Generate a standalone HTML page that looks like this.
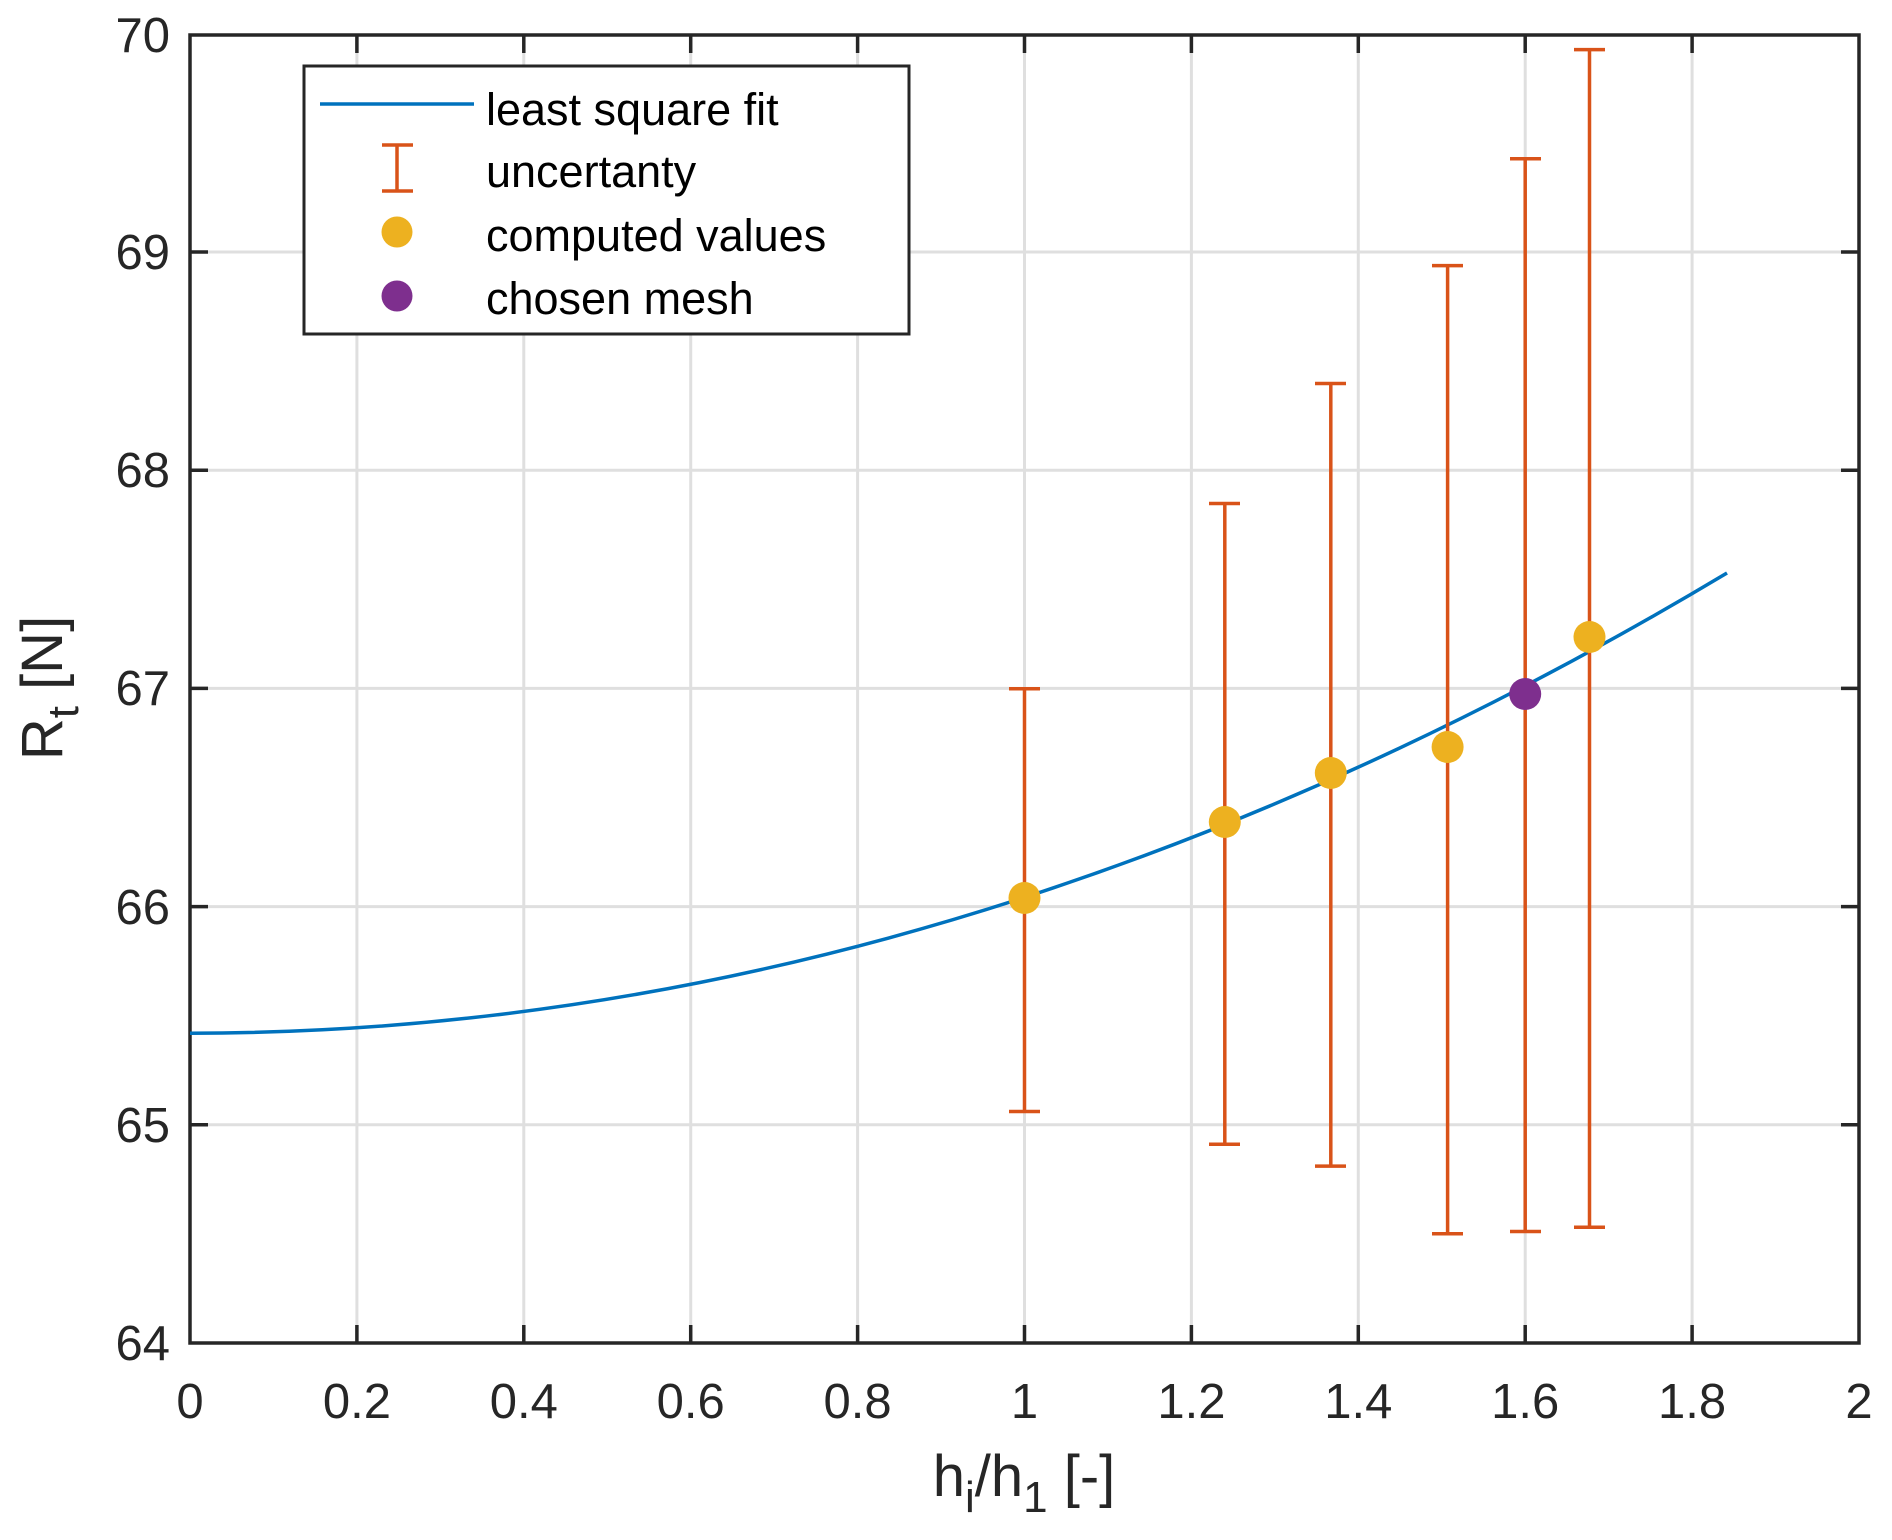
<!DOCTYPE html>
<html><head><meta charset="utf-8"><style>html,body{margin:0;padding:0;background:#fff}</style></head>
<body>
<svg width="1892" height="1535" xmlns="http://www.w3.org/2000/svg" font-family="Liberation Sans, Arial, sans-serif">
<rect width="1892" height="1535" fill="#fff"/>
<g stroke="#dfdfdf" stroke-width="3">
<line x1="356.9" y1="35" x2="356.9" y2="1343"/>
<line x1="523.8" y1="35" x2="523.8" y2="1343"/>
<line x1="690.7" y1="35" x2="690.7" y2="1343"/>
<line x1="857.6" y1="35" x2="857.6" y2="1343"/>
<line x1="1024.5" y1="35" x2="1024.5" y2="1343"/>
<line x1="1191.4" y1="35" x2="1191.4" y2="1343"/>
<line x1="1358.3" y1="35" x2="1358.3" y2="1343"/>
<line x1="1525.2" y1="35" x2="1525.2" y2="1343"/>
<line x1="1692.1" y1="35" x2="1692.1" y2="1343"/>
<line x1="190" y1="1124.8" x2="1859" y2="1124.8"/>
<line x1="190" y1="906.6" x2="1859" y2="906.6"/>
<line x1="190" y1="688.4" x2="1859" y2="688.4"/>
<line x1="190" y1="470.2" x2="1859" y2="470.2"/>
<line x1="190" y1="252" x2="1859" y2="252"/>
</g>
<g stroke="#262626" stroke-width="3.5">
<rect x="190" y="35" width="1669" height="1308" fill="none"/>
<path d="M356.9 1343v-18M523.8 1343v-18M690.7 1343v-18M857.6 1343v-18M1024.5 1343v-18M1191.4 1343v-18M1358.3 1343v-18M1525.2 1343v-18M1692.1 1343v-18
M356.9 35v18M523.8 35v18M690.7 35v18M857.6 35v18M1024.5 35v18M1191.4 35v18M1358.3 35v18M1525.2 35v18M1692.1 35v18
M190 1124.8h18M190 906.6h18M190 688.4h18M190 470.2h18M190 252h18
M1859 1124.8h-18M1859 906.6h-18M1859 688.4h-18M1859 470.2h-18M1859 252h-18"/>
</g>
<path fill="none" stroke="#0072bd" stroke-width="3.5" d="M190 1033.2 Q957.75 1033.2 1727 573"/>
<g stroke="#d95319" stroke-width="3.5" fill="none">
<path d="M1024.5 688.8V1111.5M1009 688.8h31M1009 1111.5h31"/>
<path d="M1224.8 503.5V1144.3M1209 503.5h31M1209 1144.3h31"/>
<path d="M1330.8 383.5V1166.1M1315 383.5h31M1315 1166.1h31"/>
<path d="M1447.6 265.6V1233.7M1432 265.6h31M1432 1233.7h31"/>
<path d="M1525.2 158.7V1231.5M1510 158.7h31M1510 1231.5h31"/>
<path d="M1589.5 49.6V1227.2M1574 49.6h31M1574 1227.2h31"/>
</g>
<g fill="#edb120">
<circle cx="1024.5" cy="898" r="16"/>
<circle cx="1224.8" cy="822" r="16"/>
<circle cx="1330.8" cy="773" r="16"/>
<circle cx="1447.6" cy="747" r="16"/>
<circle cx="1589.5" cy="637" r="16"/>
</g>
<circle cx="1525.2" cy="694" r="16" fill="#7e2f8e"/>
<rect x="304" y="66" width="605" height="268" fill="#fff" stroke="#262626" stroke-width="3"/>
<line x1="320" y1="104" x2="474" y2="104" stroke="#0072bd" stroke-width="3.5"/>
<path d="M397 145V191M382 145h31M382 191h31" stroke="#d95319" stroke-width="3.5" fill="none"/>
<circle cx="397" cy="232" r="15.5" fill="#edb120"/>
<circle cx="397" cy="296" r="15.5" fill="#7e2f8e"/>
<g font-size="45" fill="#000">
<text x="486" y="125">least square fit</text>
<text x="486" y="187">uncertanty</text>
<text x="486" y="251">computed values</text>
<text x="486" y="314">chosen mesh</text>
</g>
<g font-size="49" fill="#262626" text-anchor="middle">
<text x="190" y="1418">0</text>
<text x="356.9" y="1418">0.2</text>
<text x="523.8" y="1418">0.4</text>
<text x="690.7" y="1418">0.6</text>
<text x="857.6" y="1418">0.8</text>
<text x="1024.5" y="1418">1</text>
<text x="1191.4" y="1418">1.2</text>
<text x="1358.3" y="1418">1.4</text>
<text x="1525.2" y="1418">1.6</text>
<text x="1692.1" y="1418">1.8</text>
<text x="1859" y="1418">2</text>
</g>
<g font-size="49" fill="#262626" text-anchor="end">
<text x="170" y="1360">64</text>
<text x="170" y="1142">65</text>
<text x="170" y="924">66</text>
<text x="170" y="705">67</text>
<text x="170" y="487">68</text>
<text x="170" y="269">69</text>
<text x="170" y="52">70</text>
</g>
<text x="1024" y="1496" font-size="58" fill="#262626" text-anchor="middle">h<tspan font-size="44" dy="16">i</tspan><tspan dy="-16">/h</tspan><tspan font-size="44" dy="16">1</tspan><tspan dy="-16"> [-]</tspan></text>
<text transform="translate(62,688) rotate(-90)" font-size="58" fill="#262626" text-anchor="middle">R<tspan font-size="44" dy="16">t</tspan><tspan dy="-16"> [N]</tspan></text>
</svg>
</body></html>
